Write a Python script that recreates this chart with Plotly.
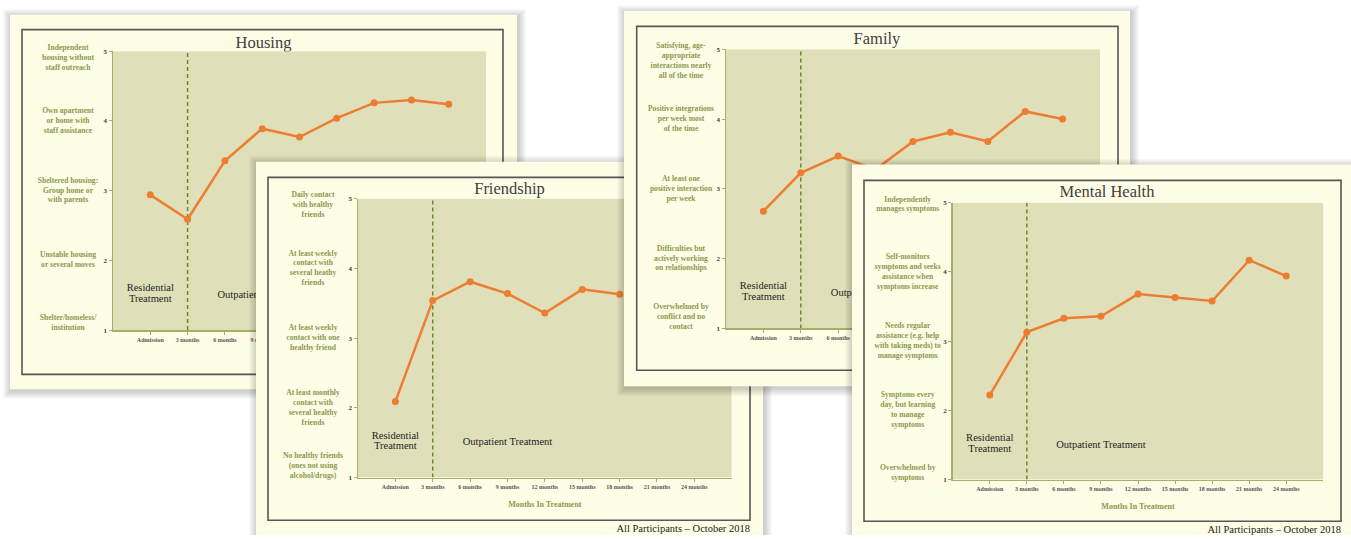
import plotly.graph_objects as go

W, H = 1351, 539

# ---------------- data ----------------
months = ["Admission", "3 months", "6 months", "9 months", "12 months",
          "15 months", "18 months", "21 months", "24 months"]
score_ticks = [1, 2, 3, 4, 5]

housing_scores = [2.94, 2.59, 3.43, 3.89, 3.77, 4.04, 4.26, 4.30, 4.24]
friendship_scores = [2.09, 3.54, 3.81, 3.64, 3.36, 3.70, 3.63, None, None]  # last two hidden behind the Family card
family_scores = [2.68, 3.23, 3.47, 3.28, 3.68, 3.81, 3.68, 4.11, 4.00]
mental_health_scores = [2.22, 3.13, 3.33, 3.36, 3.68, 3.63, 3.58, 4.17, 3.94]

housing_levels = [
    "Shelter/homeless/<br>institution",
    "Unstable housing<br>or several moves",
    "Sheltered housing:<br>Group home or<br>with parents",
    "Own apartment<br>or home with<br>staff assistance",
    "Independent<br>housing without<br>staff outreach",
]
friendship_levels = [
    "No healthy friends<br>(ones not using<br>alcohol/drugs)",
    "At least monthly<br>contact with<br>several healthy<br>friends",
    "At least weekly<br>contact with one<br>healthy friend",
    "At least weekly<br>contact with<br>several heathy<br>friends",
    "Daily contact<br>with healthy<br>friends",
]
family_levels = [
    "Overwhelmed by<br>conflict and no<br>contact",
    "Difficulties but<br>actively working<br>on relationships",
    "At least one<br>positive interaction<br>per week",
    "Positive integrations<br>per week most<br>of the time",
    "Satisfying, age-<br>appropriate<br>interactions nearly<br>all of the time",
]
mental_health_levels = [
    "Overwhelmed by<br>symptoms",
    "Symptoms every<br>day, but learning<br>to manage<br>symptoms",
    "Needs regular<br>assistance (e.g. help<br>with taking meds) to<br>manage symptoms",
    "Self-monitors<br>symptoms and seeks<br>assistance when<br>symptoms increase",
    "Independently<br>manages symptoms",
]

residential_label = ["Residential", "Treatment"]
outpatient_label = "Outpatient Treatment"
x_axis_title = "Months In Treatment"
footer = "All Participants \u2013 October 2018"

# ---------------- layout geometry (pixels) ----------------
cards = [
    dict(title="Housing", scores=housing_scores, levels=housing_levels,
         card=(10, 11, 517, 391), frame=(22, 26, 503, 376), plot=(113, 48, 486, 331)),
    dict(title="Friendship", scores=friendship_scores, levels=friendship_levels,
         card=(256, 160, 763, 548), frame=(268, 176, 750, 524), plot=(358, 197.7, 731.7, 480.7)),
    dict(title="Family", scores=family_scores, levels=family_levels,
         card=(624, 7, 1130, 388), frame=(636.7, 22.7, 1118, 371.7), plot=(726, 46, 1100, 329.3)),
    dict(title="Mental Health", scores=mental_health_scores, levels=mental_health_levels,
         card=(852, 163, 1362, 548), frame=(864, 179, 1341, 525), plot=(952.7, 201.7, 1323.3, 482.7)),
]

FONT = "Liberation Serif"
CARD_BG = "#FEFDE6"
PLOT_BG = "#DFDFBA"
OLIVE_TXT = "#8A9950"
AXIS_OLIVE = "#A4B06A"
DASH_GREEN = "#6B8A2E"
ORANGE = "#ED7D31"
FRAME = "#575757"
LAB_SIZE = 7.6

fig = go.Figure()
shapes = []
layout_axes = {}

XMIN, XMAX, YMIN, YMAX = -1, 9, 1, 5
xcats = list(range(len(months)))


def ax_name(kind, n):
    return f"{kind}axis" if n == 1 else f"{kind}axis{n}"


def ref(kind, n):
    return kind if n == 1 else f"{kind}{n}"


for i, c in enumerate(cards):
    cn = 2 * i + 1      # card subplot (pixel coordinates over the whole figure)
    pn = 2 * i + 2      # chart subplot
    cx, cy = ref("x", cn), ref("y", cn)
    px, py = ref("x", pn), ref("y", pn)

    layout_axes[ax_name("x", cn)] = dict(domain=[0, 1], range=[0, W], visible=False,
                                         anchor=cy, fixedrange=True)
    layout_axes[ax_name("y", cn)] = dict(domain=[0, 1], range=[H, 0], visible=False,
                                         anchor=cx, fixedrange=True)

    L, T, R, B = c["plot"]
    layout_axes[ax_name("x", pn)] = dict(
        domain=[L / W, R / W], range=[XMIN, XMAX], anchor=py,
        tickmode="array", tickvals=xcats, ticktext=months,
        tickfont=dict(family=FONT, size=6, color="#555555", weight="bold"),
        showline=True, linecolor=AXIS_OLIVE, linewidth=1.5,
        ticks="outside", ticklen=3, tickcolor=AXIS_OLIVE, tickwidth=1,
        showgrid=False, zeroline=False, fixedrange=True)
    layout_axes[ax_name("y", pn)] = dict(
        domain=[1 - B / H, 1 - T / H], range=[YMIN, YMAX], anchor=px,
        tickmode="array", tickvals=score_ticks,
        tickfont=dict(family=FONT, size=7, color="#404040", weight="bold"),
        showline=True, linecolor=AXIS_OLIVE, linewidth=1.5,
        ticks="outside", ticklen=3, tickcolor=AXIS_OLIVE, tickwidth=1,
        showgrid=False, zeroline=False, fixedrange=True)

    # ---- card: shadow, paper, frame ----
    x0, y0, x1, y1 = c["card"]
    for k in range(8, 0, -1):
        shapes.append(dict(type="rect", xref=cx, yref=cy, layer="below",
                           x0=x0 - k + 1, x1=x1 + k + 1, y0=y0 - k + 2, y1=y1 + k + 2,
                           fillcolor="rgba(0,0,0,0.024)", line=dict(width=0)))
    shapes.append(dict(type="rect", xref=cx, yref=cy, layer="below",
                       x0=x0, x1=x1, y0=y0, y1=y1, fillcolor=CARD_BG, line=dict(width=0)))
    f0, g0, f1, g1 = c["frame"]
    shapes.append(dict(type="rect", xref=cx, yref=cy, layer="below",
                       x0=f0, x1=f1, y0=g0, y1=g1, fillcolor="rgba(0,0,0,0)",
                       line=dict(color=FRAME, width=1.6)))

    # ---- plot area background and treatment divider ----
    shapes.append(dict(type="rect", xref=px, yref=py, layer="below",
                       x0=XMIN, x1=XMAX, y0=YMIN, y1=YMAX, fillcolor=PLOT_BG,
                       line=dict(width=0)))
    shapes.append(dict(type="line", xref=px, yref=py, layer="below",
                       x0=xcats[1], x1=xcats[1], y0=YMIN, y1=YMAX,
                       line=dict(color=DASH_GREEN, width=1.5, dash="4px,3px")))

    # ---- card texts: title and footer ----
    fig.add_trace(go.Scatter(
        x=[(x0 + x1) / 2, f1], y=[y0 + 29, g1 + 9],
        text=[c["title"], footer], mode="text",
        textposition=["middle center", "middle left"],
        textfont=dict(family=FONT, size=[16.5, 10.5], color=["#404040", "#1A1A1A"]),
        xaxis=cx, yaxis=cy, hoverinfo="skip", showlegend=False, cliponaxis=False))

    # ---- descriptive level labels (placed beside the y ticks, card coordinates) ----
    pxu_y = (B - T) / (YMAX - YMIN)
    line_h = 1.3 * LAB_SIZE
    lab_y = []
    for v, lab in zip(score_ticks, c["levels"]):
        n = lab.count("<br>") + 1
        center = B - (v - YMIN) * pxu_y
        half = n * line_h / 2
        if center - half < T - 8:
            center = T - 8 + half
        if center + half > B + 3:
            center = B + 3 - half
        lab_y.append(center)
    fig.add_trace(go.Scatter(
        x=[L - 45] * len(score_ticks), y=lab_y, text=c["levels"], mode="text",
        textposition="middle center",
        textfont=dict(family=FONT, size=LAB_SIZE, color=OLIVE_TXT, weight="bold"),
        xaxis=cx, yaxis=cy, hoverinfo="skip", showlegend=False, cliponaxis=False))
    fig.add_trace(go.Scatter(
        x=[(L + R) / 2], y=[B + 27.6], text=[x_axis_title], mode="text",
        textposition="middle center",
        textfont=dict(family=FONT, size=8, color=OLIVE_TXT, weight="bold"),
        xaxis=cx, yaxis=cy, hoverinfo="skip", showlegend=False, cliponaxis=False))

    # ---- series line ----
    fig.add_trace(go.Scatter(
        x=xcats, y=c["scores"], mode="lines+markers",
        line=dict(color=ORANGE, width=2.5),
        marker=dict(color=ORANGE, size=7),
        xaxis=px, yaxis=py, hoverinfo="skip", showlegend=False, connectgaps=False))

    # ---- phase labels ----
    dy = 5.5 / pxu_y
    fig.add_trace(go.Scatter(
        x=[xcats[0], xcats[0], 3.0], y=[1.52 + dy, 1.52 - dy, 1.5],
        text=residential_label + [outpatient_label], mode="text",
        textposition="middle center",
        textfont=dict(family=FONT, size=10.5, color="#1F1F1F"),
        xaxis=px, yaxis=py, hoverinfo="skip", showlegend=False, cliponaxis=False))

fig.update_layout(
    width=W, height=H, margin=dict(l=0, r=0, t=0, b=0),
    paper_bgcolor="#FFFFFF", plot_bgcolor="rgba(0,0,0,0)",
    showlegend=False, shapes=shapes, hovermode=False,
    **layout_axes,
)

fig.write_html("out.html", config=dict(displayModeBar=False, staticPlot=True),
               post_script="document.body.style.margin='0';document.body.style.overflow='hidden';")
